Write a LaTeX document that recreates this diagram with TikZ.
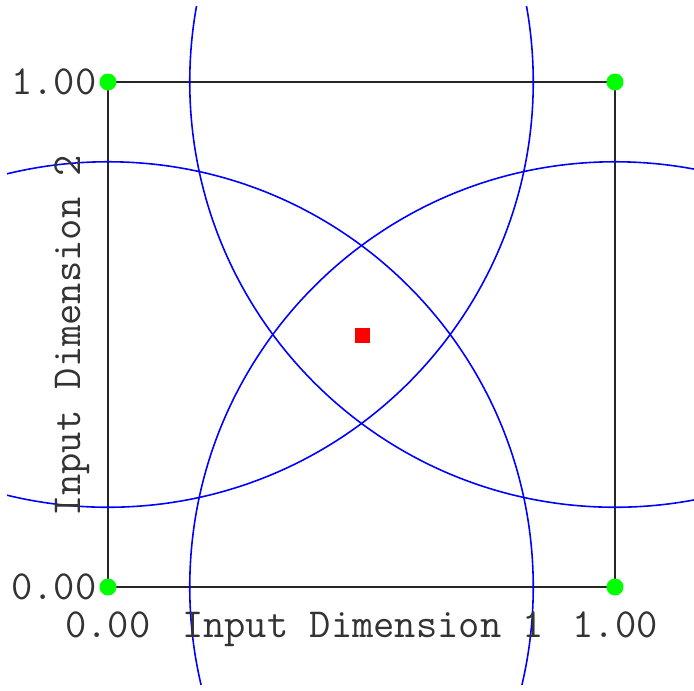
\documentclass[tikz,border=0pt]{standalone}
\begin{document}
\begin{tikzpicture}[x=0.01cm,y=-0.01cm,
  lbl/.style={font=\ttfamily\fontsize{11.75pt}{13pt}\selectfont, text=black!80, inner sep=0pt},
  corner/.style={circle, fill=green, draw=none, minimum size=0.17cm, inner sep=0pt},
  center/.style={rectangle, fill=red, draw=none, minimum size=0.15cm, inner sep=0pt},
  rbf/.style={draw=blue, line width=0.45pt},
  frame/.style={draw=black!85, line width=0.45pt}]
\useasboundingbox (0,0) rectangle (694,690);
\coordinate (c00) at (108,587);
\coordinate (c10) at (615,587);
\coordinate (c01) at (108,82);
\coordinate (c11) at (615,82);
\draw[frame] (c00) rectangle (c11);
\begin{scope}
  \clip (7,6) rectangle (694,684);
  \draw[rbf] (c00) circle[radius=4.25cm];
  \draw[rbf] (c10) circle[radius=4.25cm];
  \draw[rbf] (c01) circle[radius=4.25cm];
  \draw[rbf] (c11) circle[radius=4.25cm];
\end{scope}
\node[corner] (m00) at (c00) {};
\node[corner] (m10) at (c10) {};
\node[corner] (m01) at (c01) {};
\node[corner] (m11) at (c11) {};
\node[center] (q) at (362,335) {};
\node[lbl, anchor=east] (y1) at (97,82) {1.00};
\node[lbl, anchor=east] (y0) at (97,587) {0.00};
\node[lbl, anchor=base] (x0) at (108,637) {0.00};
\node[lbl, anchor=base] (x1) at (615,637) {1.00};
\node[lbl, anchor=base] (xl) at (363,637) {Input Dimension 1};
\node[lbl, anchor=base, rotate=90] (yl) at (80,336) {Input Dimension 2};
\end{tikzpicture}
\end{document}
